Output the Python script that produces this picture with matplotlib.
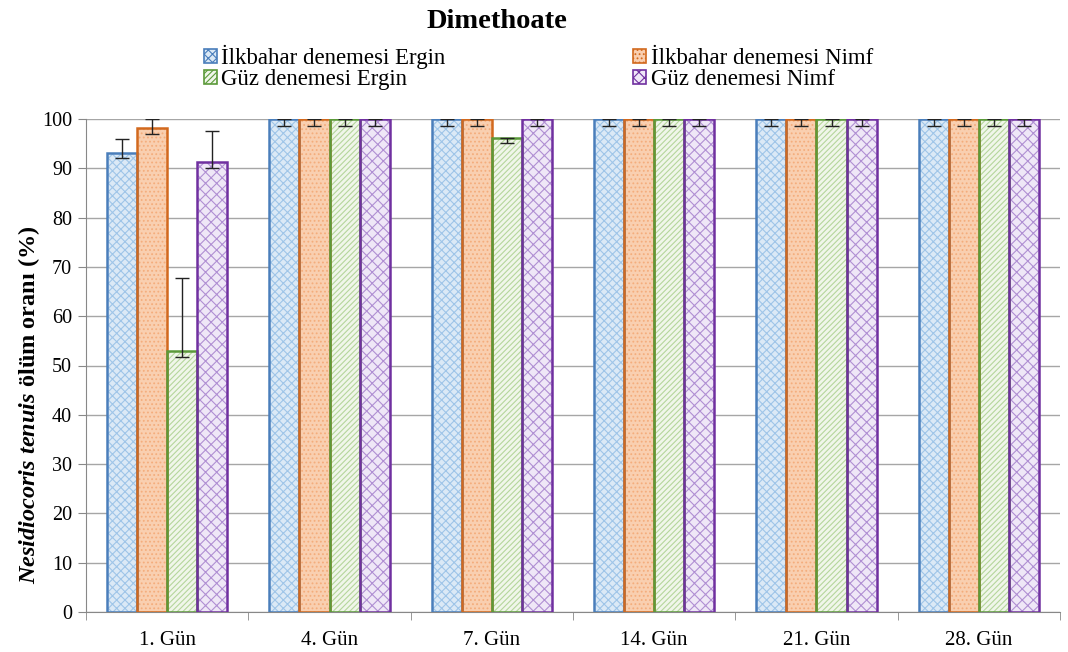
import numpy as np
import matplotlib.pyplot as plt
from matplotlib.patches import Patch

plt.rcParams['font.family'] = ['Liberation Serif', 'DejaVu Serif']
plt.rcParams['mathtext.fontset'] = 'custom'
plt.rcParams['mathtext.it'] = 'Liberation Serif:italic:bold'
plt.rcParams['mathtext.rm'] = 'Liberation Serif:bold'
plt.rcParams['hatch.linewidth'] = 0.8

# veriler
gunler = ['1. Gün', '4. Gün', '7. Gün', '14. Gün', '21. Gün', '28. Gün']
seriler = ['İlkbahar denemesi Ergin', 'İlkbahar denemesi Nimf',
           'Güz denemesi Ergin', 'Güz denemesi Nimf']

ilk_ergin = [93.2, 100, 100, 100, 100, 100]
ilk_nimf = [98.1, 100, 100, 100, 100, 100]
guz_ergin = [53.0, 100, 96.2, 100, 100, 100]
guz_nimf = [91.3, 100, 100, 100, 100, 100]

# hata çubukları (alt, üst)
ilk_ergin_err = [[1.2, 1.5, 1.5, 1.5, 1.5, 1.5], [2.8, 0, 0, 0, 0, 0]]
ilk_nimf_err = [[1.1, 1.5, 1.5, 1.5, 1.5, 1.5], [1.9, 0, 0, 0, 0, 0]]
guz_ergin_err = [[1.3, 1.5, 1.1, 1.5, 1.5, 1.5], [14.7, 0, 0, 0, 0, 0]]
guz_nimf_err = [[1.2, 1.5, 1.5, 1.5, 1.5, 1.5], [6.2, 0, 0, 0, 0, 0]]

degerler = [ilk_ergin, ilk_nimf, guz_ergin, guz_nimf]
hatalar = [ilk_ergin_err, ilk_nimf_err, guz_ergin_err, guz_nimf_err]

# stil: (dolgu, desen rengi, kenar, desen)
stiller = [
    ('#dbe9f6', '#9fc5e8', '#4a7ebb', 'xxxx'),
    ('#f9cfb0', '#f4ad7c', '#d2691e', '....'),
    ('#f0f6ea', '#b5d69c', '#5b9a3a', '//////'),
    ('#efe7f7', '#b08fd3', '#7030a0', 'xxx'),
]

fig = plt.figure(figsize=(10.68, 6.52), dpi=100)
ax = fig.add_axes([86 / 1068, 40 / 652, 974 / 1068, 493 / 652])

x = np.arange(len(gunler))
w = 0.185

for j, (vals, err) in enumerate(zip(degerler, hatalar)):
    dolgu, desen_renk, kenar, desen = stiller[j]
    pos = x + (j - 1.5) * w
    ax.bar(pos, vals, w, color=dolgu, edgecolor=desen_renk, hatch=desen,
           linewidth=0, zorder=2)
    ax.bar(pos, vals, w, color='none', edgecolor=kenar, linewidth=1.8, zorder=3)
    ax.errorbar(pos, vals, yerr=err, fmt='none', ecolor='#222222',
                elinewidth=1.0, capsize=5, capthick=1.0, zorder=4)

ax.set_ylim(0, 100)
ax.set_xlim(-0.5, len(gunler) - 0.5)
ax.set_yticks(np.arange(0, 101, 10))
ax.set_xticks(x)
ax.set_xticklabels(gunler)
ax.set_xticks(np.arange(-0.5, len(gunler)), minor=True)
ax.tick_params(axis='x', which='major', length=0, pad=14, labelsize=15)
ax.tick_params(axis='x', which='minor', length=6, color='#888888', direction='out')
ax.tick_params(axis='y', length=6, color='#888888', labelsize=14.5, pad=4)
ax.yaxis.grid(True, color='#a6a6a6', linewidth=1.0, zorder=0)
ax.set_axisbelow(True)
for s in ['top', 'right']:
    ax.spines[s].set_visible(False)
for s in ['left', 'bottom']:
    ax.spines[s].set_color('#888888')

ax.set_ylabel(r'$\mathit{Nesidiocoris\ tenuis}$ ölüm oranı (%)', fontsize=17.5,
              fontweight='bold')
ax.yaxis.set_label_coords(-44 / 974, (612 - 405) / 493)

fig.text(497 / 1068, 1 - 22 / 652, 'Dimethoate', ha='center', va='center',
         fontsize=20.5, fontweight='bold')

handles = [Patch(facecolor=s[0], edgecolor=s[2], hatch=s[3], linewidth=1.2)
           for s in stiller]
sira = [0, 2, 1, 3]
fig.legend([handles[i] for i in sira], [seriler[i] for i in sira],
           loc='upper left', bbox_to_anchor=(204 / 1068, 1 - 45 / 652),
           ncol=2, frameon=False, fontsize=16.5, handlelength=0.55,
           handleheight=0.55, handletextpad=0.2, columnspacing=8.2,
           labelspacing=0.0, borderaxespad=0, borderpad=0)

fig.savefig('out.png', dpi=100)
